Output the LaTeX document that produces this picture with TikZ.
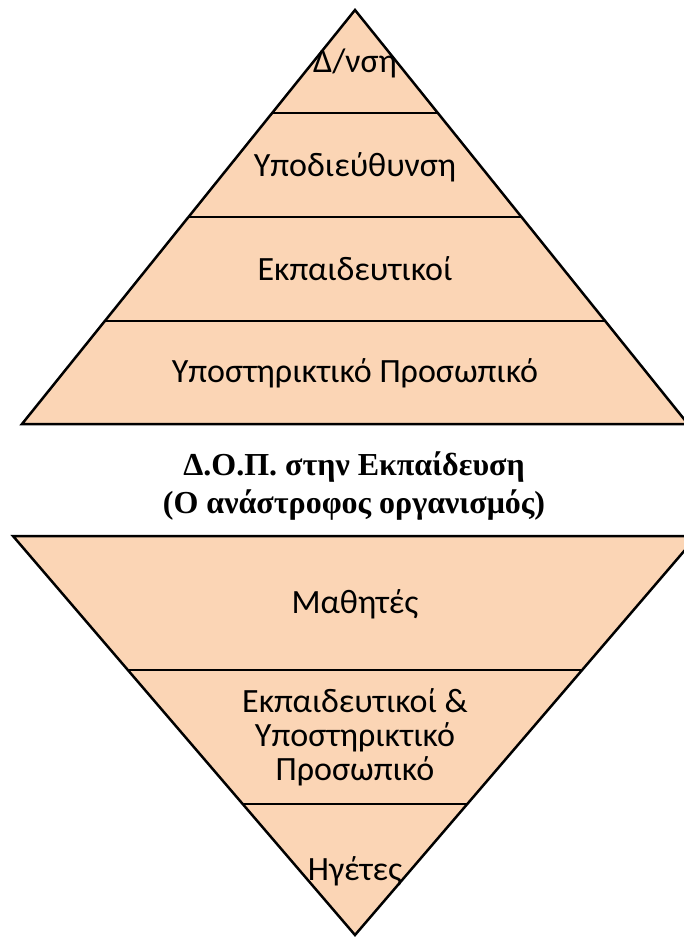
\documentclass[tikz,border=0pt]{standalone}
\usepackage{fontspec}
\setmainfont{Carlito}
\newfontfamily\titlefont{Liberation Serif}
\definecolor{peach}{HTML}{FBD5B5}
\begin{document}
\begin{tikzpicture}[x=1pt,y=-1pt,
  band/.style={fill=peach},
  edge/.style={line width=2.5pt,line join=miter},
  divider/.style={line width=2.5pt},
  label/.style={anchor=base,inner sep=0pt,font=\fontsize{34}{40}\selectfont,align=center},
  heading/.style={anchor=base,inner sep=0pt,font=\titlefont\bfseries\fontsize{32}{38}\selectfont,align=center}]
\useasboundingbox (0,0) rectangle (684,937);
\clip (0,0) rectangle (684,937);

% upright pyramid: management on top
\coordinate (ta) at (355,10);
\coordinate (tl) at (22,424);
\coordinate (tr) at (688,424);
\fill[band] (ta) -- (tl) -- (tr) -- cycle;
\begin{scope}
  \clip (ta) -- (tl) -- (tr) -- cycle;
  \foreach \y in {113,217,321}
    \draw[divider] (0,\y) -- (684,\y);
\end{scope}
\draw[edge] (ta) -- (tl) -- (tr) -- cycle;

\node[label] (t1) at (355,72) {Δ/νση};
\node[label] (t2) at (355,176) {Υποδιεύθυνση};
\node[label] (t3) at (355,280) {Εκπαιδευτικοί};
\node[label] (t4) at (355,382) {Υποστηρικτικό Προσωπικό};

% heading between the two pyramids
\node[heading] (h1) at (354,475) {Δ.Ο.Π. στην Εκπαίδευση};
\node[heading] (h2) at (354,513) {(Ο ανάστροφος οργανισμός)};

% inverted pyramid: students on top
\coordinate (bl) at (13,536);
\coordinate (br) at (697,536);
\coordinate (ba) at (355,935);
\fill[band] (bl) -- (br) -- (ba) -- cycle;
\begin{scope}
  \clip (bl) -- (br) -- (ba) -- cycle;
  \foreach \y in {670,804}
    \draw[divider] (0,\y) -- (684,\y);
\end{scope}
\draw[edge] (bl) -- (br) -- (ba) -- cycle;

\node[label] (b1) at (355,613) {Μαθητές};
\node[label] (b2a) at (355,712) {Εκπαιδευτικοί \&};
\node[label] (b2b) at (355,746) {Υποστηρικτικό};
\node[label] (b2c) at (355,780) {Προσωπικό};
\node[label] (b3) at (355,880) {Ηγέτες};
\end{tikzpicture}
\end{document}
